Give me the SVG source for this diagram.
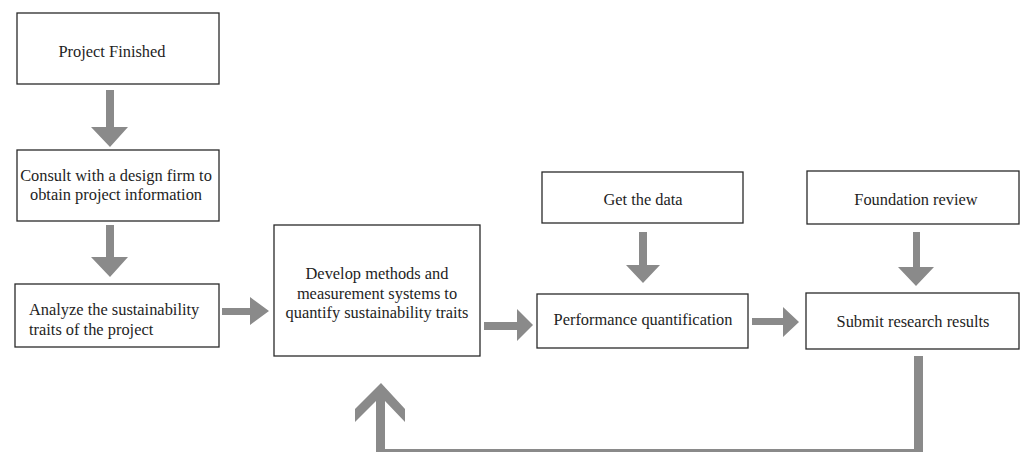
<svg xmlns="http://www.w3.org/2000/svg" width="1024" height="452" viewBox="0 0 1024 452">
<style>
.box{fill:#fff;stroke:#2a2a2a;stroke-width:1.3}
.t{font-family:"Liberation Serif","Times New Roman",serif;font-size:16.4px;fill:#1e1e1e}
.c{text-anchor:middle}
.arr{fill:#8a8a8a}
</style>
<rect width="1024" height="452" fill="#fff"/>
<g id="connectors">
<polygon class="arr" points="106,90 114,90 114,127 128,127 110,147 91,127 106,127"/>
<polygon class="arr" points="106,225 114,225 114,257 128,257 110,277 91,257 106,257"/>
<polygon class="arr" points="222,308 250,308 250,297 269,311 250,325 250,315 222,315"/>
<polygon class="arr" points="484,322 517,322 517,309 533,325 517,341 517,330 484,330"/>
<polygon class="arr" points="639,232 647,232 647,265 660,265 643,283 626,265 639,265"/>
<polygon class="arr" points="752,318 783,318 783,307 799,322 783,337 783,325 752,325"/>
<polygon class="arr" points="913,232 920,232 920,267 934,267 916,286 898,267 913,267"/>
<polygon class="arr" points="914,356 923,356 923,452 376,452 376,449 914,449"/>
<polygon class="arr" points="381,383 405,409 405,422 385,401 385,452 376,452 376,401 355,422 355,409"/>
</g>
<g id="n1"><rect class="box" x="17" y="13" width="202" height="71"/><text class="t c" x="112" y="57">Project Finished</text></g>
<g id="n2"><rect class="box" x="17" y="150" width="202" height="71"/><text class="t c" x="116" y="181">Consult with a design firm to</text><text class="t c" x="116" y="200">obtain project information</text></g>
<g id="n3"><rect class="box" x="15" y="284" width="204" height="63"/><text class="t" x="29" y="315">Analyze the sustainability</text><text class="t" x="29" y="335">traits of the project</text></g>
<g id="n4"><rect class="box" x="274" y="225" width="206" height="131"/><text class="t c" x="377" y="279">Develop methods and</text><text class="t c" x="377" y="299">measurement systems to</text><text class="t c" x="377" y="318">quantify sustainability traits</text></g>
<g id="n5"><rect class="box" x="542" y="172" width="201" height="51"/><text class="t c" x="643" y="205">Get the data</text></g>
<g id="n6"><rect class="box" x="537" y="294" width="211" height="54"/><text class="t c" x="643" y="325">Performance quantification</text></g>
<g id="n7"><rect class="box" x="807" y="171" width="212" height="53"/><text class="t c" x="916" y="205">Foundation review</text></g>
<g id="n8"><rect class="box" x="806" y="293" width="213" height="56"/><text class="t c" x="913" y="327">Submit research results</text></g>
</svg>
